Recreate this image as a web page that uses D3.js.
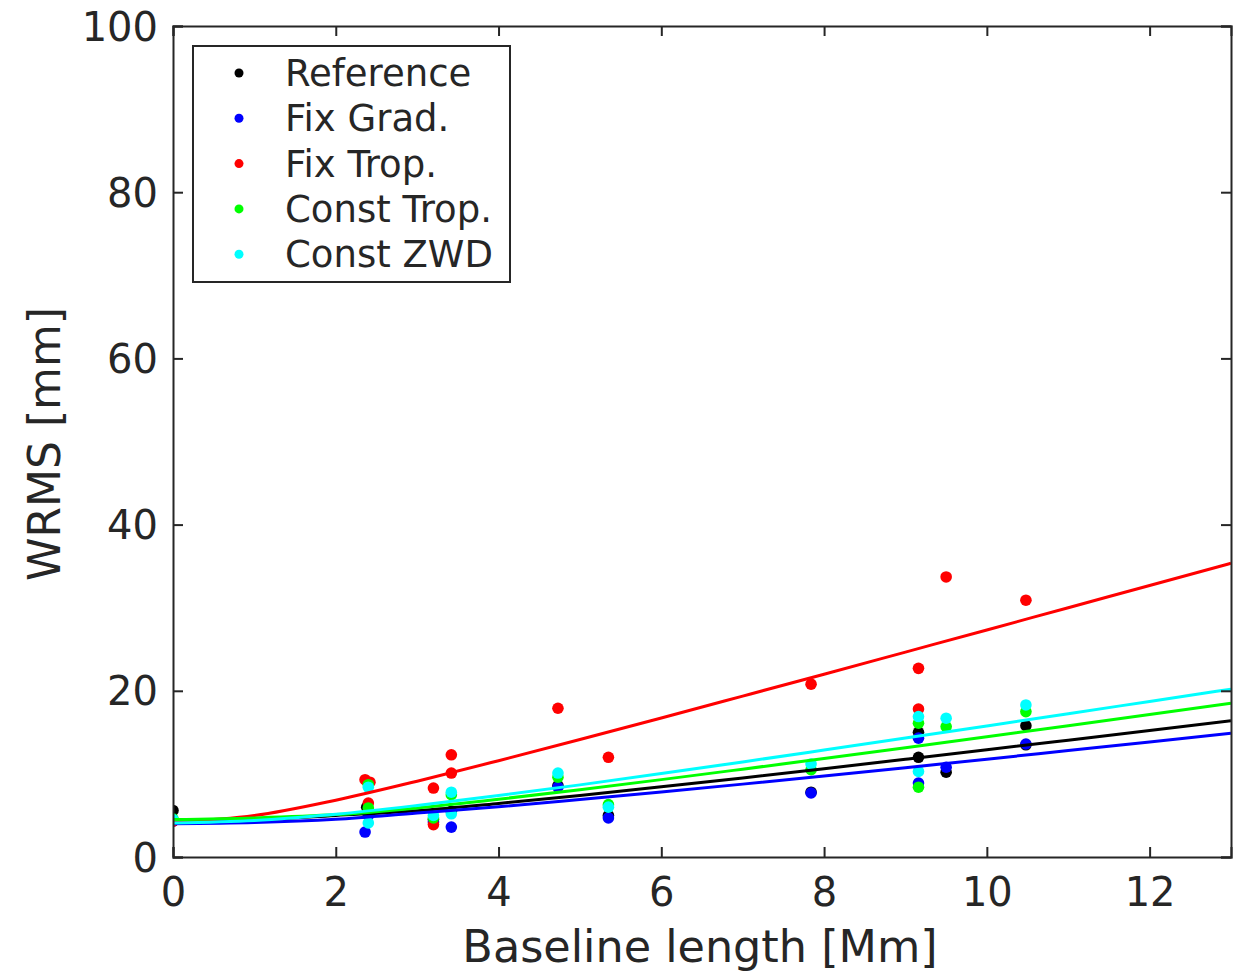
<!DOCTYPE html>
<html><head><meta charset="utf-8">
<script src="https://cdn.jsdelivr.net/npm/d3@7"></script>
<style>body{margin:0;background:#fff;} svg{display:block;}</style>
</head><body>
<svg id="c" width="1240" height="973"></svg>
<script>
// ---- data ----
const seriesNames = ["Reference", "Fix Grad.", "Fix Trop.", "Const Trop.", "Const ZWD"];
const seriesColors = ["#000000", "#0000ff", "#ff0000", "#00ff00", "#00ffff"];
const xTicks = [0, 2, 4, 6, 8, 10, 12];
const yTicks = [0, 20, 40, 60, 80, 100];

// scatter points [baseline length Mm, WRMS mm]
const pointsReference = [[0,5.6],[2.38,6.0],[3.2,4.5],[3.42,5.5],[4.73,8.6],[5.35,5.0],[7.84,7.8],[9.16,15.0],[9.16,12.0],[9.5,10.2],[10.48,15.8],[10.48,13.5]];
const pointsFixGrad = [[0,4.3],[2.36,3.0],[2.4,5.0],[3.2,4.2],[3.42,3.6],[4.73,8.4],[5.35,4.7],[7.84,7.7],[9.16,14.3],[9.16,8.9],[9.5,10.8],[10.48,13.6]];
const pointsFixTrop = [[0,4.3],[2.36,9.3],[2.42,9.0],[2.4,6.5],[3.2,8.3],[3.2,3.9],[3.42,12.3],[3.42,10.1],[4.73,17.9],[5.35,12.0],[7.84,20.8],[9.16,22.7],[9.16,17.8],[9.5,33.7],[10.48,30.9]];
const pointsConstTrop = [[0,4.6],[2.4,8.7],[2.4,5.9],[3.2,4.7],[3.42,7.5],[4.73,9.6],[5.35,6.3],[7.84,10.5],[9.16,16.1],[9.16,8.4],[9.5,15.7],[10.48,17.5]];
const pointsConstZWD = [[0,4.5],[2.4,8.4],[2.4,4.1],[3.2,5.0],[3.42,7.8],[3.42,5.2],[4.73,10.1],[5.35,6.0],[7.84,11.2],[9.16,16.9],[9.16,10.3],[9.5,16.7],[10.48,18.3]];

// fitted curves, read at x = 0..13
const fitX = [0,1,2,3,4,5,6,7,8,9,10,11,12,13];
const fitReference = [4.3,4.45,5.0,5.57,6.44,7.41,8.44,9.52,10.63,11.76,12.90,14.06,15.23,16.41];
const fitFixGrad = [4.0,4.15,4.55,5.3,6.05,6.92,7.82,8.77,9.75,10.75,11.77,12.81,13.85,14.90];
const fitFixTrop = [4.2,4.99,6.84,9.12,11.59,14.14,16.73,19.36,22.0,24.66,27.32,30.0,32.67,35.35];
const fitConstTrop = [4.5,4.7,5.1,5.91,6.95,8.10,9.31,10.57,11.85,13.15,14.47,15.80,17.14,18.49];
const fitConstZWD = [4.1,4.4,5.15,6.20,7.39,8.68,10.04,11.44,12.87,14.31,15.77,17.24,18.72,20.20];

const allPoints = [pointsReference, pointsFixGrad, pointsFixTrop, pointsConstTrop, pointsConstZWD];
const allFits = [fitReference, fitFixGrad, fitFixTrop, fitConstTrop, fitConstZWD];

// ---- chart ----
const svg = d3.select("#c");
const L = 173, R = 1231, T = 26, B = 857;
const x = d3.scaleLinear().domain([0, 13]).range([L, R]);
const y = d3.scaleLinear().domain([0, 100]).range([B, T]);
const axisCol = "#262626";
const font = "DejaVu Sans, sans-serif";

const plot = svg.append("g");
plot.append("defs").append("clipPath").attr("id","clip")
  .append("rect").attr("x", L).attr("y", T).attr("width", R-L).attr("height", B-T);

const dots = plot.append("g").attr("clip-path","url(#clip)");
allPoints.forEach((pts, i) => {
  dots.selectAll(null).data(pts).enter().append("circle")
    .attr("cx", d => x(d[0])).attr("cy", d => y(d[1])).attr("r", 5.8)
    .attr("fill", seriesColors[i]);
});
const line = d3.line().x((d, k) => x(fitX[k])).y(d => y(d)).curve(d3.curveMonotoneX);
const lines = plot.append("g").attr("clip-path","url(#clip)");
allFits.forEach((f, i) => {
  lines.append("path").attr("d", line(f)).attr("fill","none")
    .attr("stroke", seriesColors[i]).attr("stroke-width", 3);
});

// axes
const tl = 10;
const gx = svg.append("g").attr("transform", `translate(0,${B})`)
  .call(d3.axisBottom(x).tickValues(xTicks).tickSize(-tl).tickPadding(21));
const gxt = svg.append("g").attr("transform", `translate(0,${T})`)
  .call(d3.axisTop(x).tickValues(xTicks).tickSize(-tl).tickFormat(""));
const gy = svg.append("g").attr("transform", `translate(${L},0)`)
  .call(d3.axisLeft(y).tickValues(yTicks).tickSize(-tl).tickPadding(15));
const gyr = svg.append("g").attr("transform", `translate(${R},0)`)
  .call(d3.axisRight(y).tickValues(yTicks).tickSize(-tl).tickFormat(""));
[gx, gxt, gy, gyr].forEach(g => {
  g.selectAll(".domain").attr("stroke", axisCol).attr("stroke-width", 2);
  g.selectAll(".tick line").attr("stroke", axisCol).attr("stroke-width", 2);
  g.selectAll(".tick text").attr("fill", axisCol).attr("font-size", 40).attr("font-family", font);
});
gx.selectAll(".tick text").attr("dy", "0.71em");
gy.selectAll(".tick text").attr("dy", "0.35em");

svg.append("text").attr("x", 700).attr("y", 962).attr("text-anchor","middle")
  .attr("font-size", 44.5).attr("font-family", font).attr("fill", axisCol)
  .text("Baseline length [Mm]");
svg.append("text").attr("transform", `translate(60,${444}) rotate(-90)`)
  .attr("text-anchor","middle").attr("font-size", 44).attr("font-family", font).attr("fill", axisCol)
  .text("WRMS [mm]");

// legend
const lg = svg.append("g");
lg.append("rect").attr("x", 193).attr("y", 46).attr("width", 317).attr("height", 236)
  .attr("fill","#fff").attr("stroke", axisCol).attr("stroke-width", 2);
seriesNames.forEach((n, i) => {
  const yy = 73 + i * 45.3;
  lg.append("circle").attr("cx", 239).attr("cy", yy).attr("r", 4.5).attr("fill", seriesColors[i]);
  lg.append("text").attr("x", 285).attr("y", yy).attr("dy","0.35em")
    .attr("font-size", 37).attr("font-family", font).attr("fill", axisCol).text(n);
});
</script>
</body></html>
